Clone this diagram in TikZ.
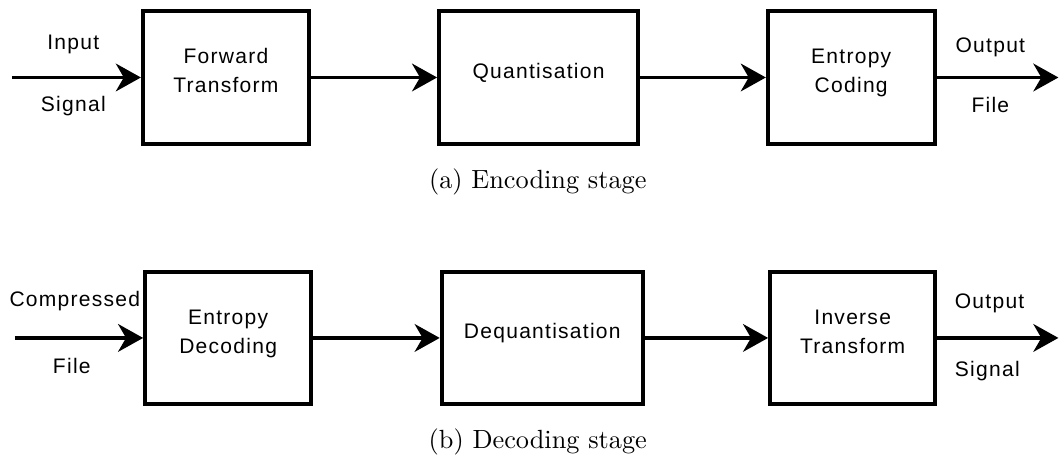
\documentclass[tikz,border=0pt]{standalone}
\usepackage{fontspec}
\newfontfamily\diagfont{Liberation Sans}[LetterSpace=6]
\usetikzlibrary{positioning}
\usetikzlibrary{arrows.meta}
\providecommand*{\boxlines}[1]{%
    \raisebox{1.9pt}[\height][\depth]{\begin{tabular}{@{}c@{}}#1\end{tabular}}%
}

\begin{document}
\begin{tikzpicture}[black, line width = 1.5pt,
    block/.style = {rectangle, draw, fill = white, minimum height = 1.77cm, inner sep = 0pt, font = \diagfont\fontsize{8}{11}\selectfont},
    sig/.style = {anchor = base, font = \diagfont\fontsize{8}{11}\selectfont},
    flow/.style = {-{Stealth[length = 9.5pt, width = 10.5pt, inset = 3pt]}},
    caption/.style = {anchor = base, font = \normalsize}]
    \useasboundingbox (0,0) rectangle (14.158,6.096);

    % encoding stage
    \begin{scope}[on grid, yshift = 5.06cm]

        \node (FT) at (3.02,0) [block, minimum width = 2.22cm] {\boxlines{Forward\\Transform}};
        \node (Q) [block, minimum width = 2.66cm, right = 4.18 of FT] {\boxlines{Quantisation}};
        \node (EC) [block, minimum width = 2.23cm, right = 4.18 of Q] {\boxlines{Entropy\\Coding}};

        \coordinate (in) at (0.16,0);
        \coordinate (out) at (14.15,0);

        \draw[flow] (in) -- (FT);
        \draw[flow] (FT) -- (Q);
        \draw[flow] (Q) -- (EC);
        \draw[flow] (EC) -- (out);

        \node (inTop) at (0.98,0.38) [sig] {Input};
        \node (inBot) at (0.98,-0.46) [sig] {Signal};
        \node (outTop) at (13.24,0.34) [sig] {Output};
        \node (outBot) at (13.24,-0.47) [sig] {File};

        \node (capA) at (7.19,-1.49) [caption] {(a) Encoding stage};
    \end{scope}

    % decoding stage
    \begin{scope}[on grid, yshift = 1.578cm]

        \node (ED) at (3.05,0) [block, minimum width = 2.22cm] {\boxlines{Entropy\\Decoding}};
        \node (DQ) [block, minimum width = 2.69cm, right = 4.20 of ED] {\boxlines{Dequantisation}};
        \node (IT) [block, minimum width = 2.21cm, right = 4.15 of DQ] {\boxlines{Inverse\\Transform}};

        \coordinate (in) at (0.2,0);
        \coordinate (out) at (14.15,0);

        \draw[flow] (in) -- (ED);
        \draw[flow] (ED) -- (DQ);
        \draw[flow] (DQ) -- (IT);
        \draw[flow] (IT) -- (out);

        \node (inTop) at (1.0,0.42) [sig] {Compressed};
        \node (inBot) at (0.96,-0.48) [sig] {File};
        \node (outTop) at (13.23,0.4) [sig] {Output};
        \node (outBot) at (13.2,-0.52) [sig] {Signal};

        \node (capB) at (7.19,-1.484) [caption] {(b) Decoding stage};
    \end{scope}

\end{tikzpicture}
\end{document}
